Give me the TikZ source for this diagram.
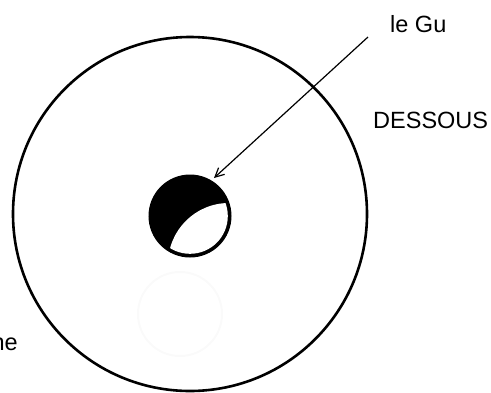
\documentclass[tikz,border=0pt]{standalone}
\usepackage{fontspec}
\setmainfont{Liberation Sans}
\usetikzlibrary{arrows.meta}
\tikzset{
  lbl/.style={inner sep=0pt, font=\fontsize{23.5}{28}\selectfont},
  ring/.style={circle, draw, inner sep=0pt},
}
\begin{document}
\begin{tikzpicture}[x=1pt,y=-1pt]
\useasboundingbox (0,0) rectangle (491,392);
% faint circle
\node[ring, draw=black!2, line width=2pt, minimum size=84pt] (faint) at (180,314) {};
% big circle
\node[ring, line width=2.6pt, minimum size=354pt] (big) at (190,214) {};
% black disc with white crescent
\node[ring, fill=black, line width=1pt, minimum size=82pt] (blk) at (190,216) {};
\begin{scope}
  \clip (190,216) circle (37.8);
  \fill[white] (229,264) circle (61);
\end{scope}
% arrow
\coordinate (start) at (368,37);
\coordinate (tip) at (214,178);
\draw[line width=1.2pt, -{Straight Barb[length=9pt,width=9pt,line width=1.2pt]}] (start) -- (tip);
% labels
\node[lbl, anchor=base west] (gu) at (390,32) {le Gu};
\node[lbl, anchor=base west] (dessous) at (373,128) {DESSOUS};
\node[lbl, anchor=base east] (ne) at (18,350) {ne};
\end{tikzpicture}
\end{document}
